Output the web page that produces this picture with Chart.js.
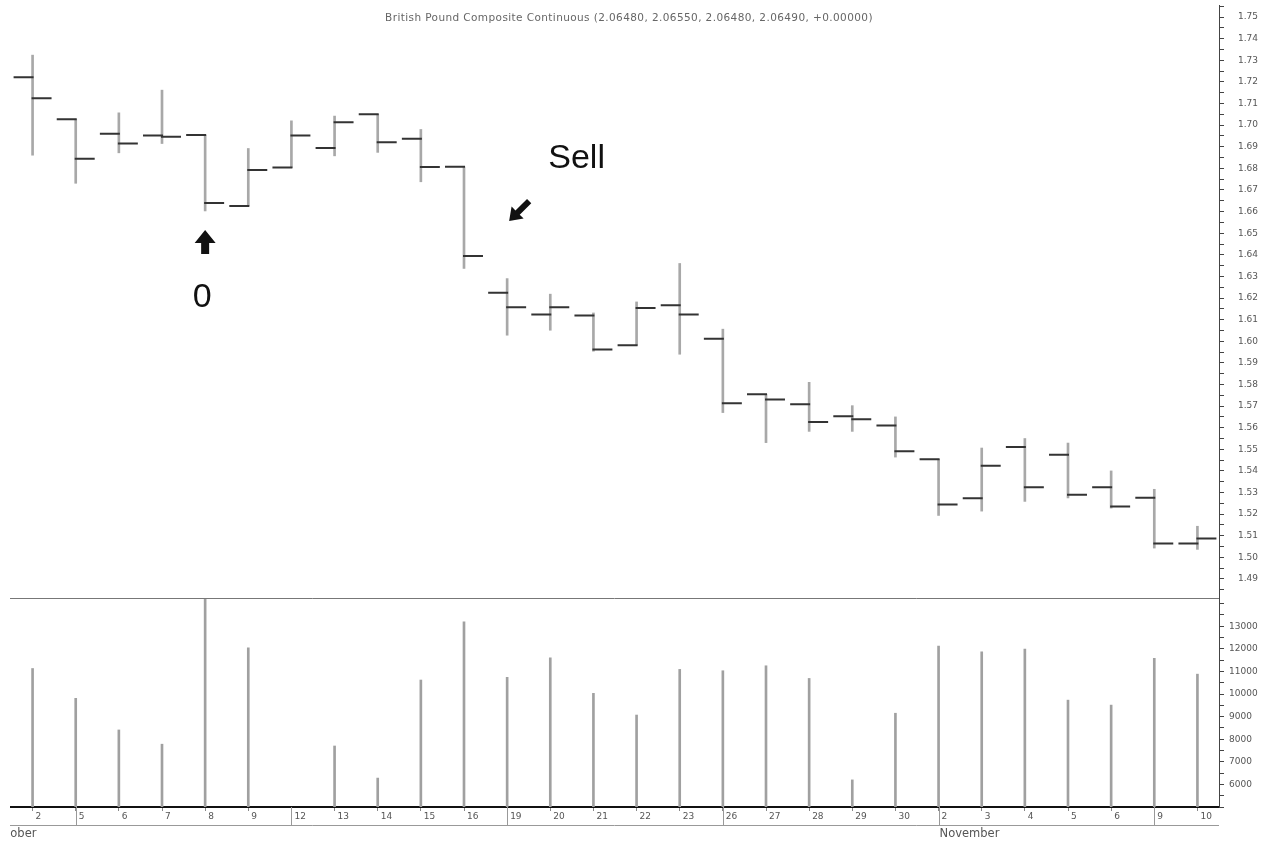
<!DOCTYPE html>
<html>
<head>
<meta charset="utf-8">
<title>British Pound Composite Continuous</title>
<script src="https://cdn.jsdelivr.net/npm/chart.js@4/dist/chart.umd.min.js"></script>
<style>
  html, body { margin: 0; padding: 0; background: #fff; }
  canvas { display: block; }
</style>
</head>
<body>
<canvas id="chart" width="1274" height="841"></canvas>
<script>
// daily bars, 2 Oct - 10 Nov
const days = ['2','5','6','7','8','9','12','13','14','15','16','19','20','21','22','23','26','27','28','29','30','2','3','4','5','6','9','10'];
const opens  = [1.7222,1.7027,1.6960,1.6952,1.6954,1.6626,1.6804,1.6894,1.7050,1.6937,1.6807,1.6225,1.6124,1.6119,1.5981,1.6167,1.6012,1.5755,1.5708,1.5653,1.5610,1.5454,1.5273,1.5511,1.5475,1.5325,1.5276,1.5064];
const highs  = [1.7324,1.7028,1.7057,1.7162,1.6954,1.6892,1.7020,1.7042,1.7050,1.6980,1.6807,1.6290,1.6218,1.6131,1.6182,1.6360,1.6056,1.5755,1.5810,1.5702,1.5650,1.5454,1.5506,1.5550,1.5529,1.5400,1.5315,1.5144];
const lows   = [1.6861,1.6731,1.6872,1.6915,1.6603,1.6626,1.6804,1.6858,1.6874,1.6738,1.6337,1.6028,1.6051,1.5954,1.5981,1.5940,1.5670,1.5531,1.5583,1.5583,1.5464,1.5194,1.5214,1.5259,1.5275,1.5228,1.5043,1.5037];
const closes = [1.7125,1.6844,1.6915,1.6946,1.6640,1.6792,1.6952,1.7014,1.6921,1.6806,1.6395,1.6157,1.6157,1.5962,1.6154,1.6124,1.5713,1.5731,1.5626,1.5639,1.5491,1.5245,1.5424,1.5324,1.5290,1.5235,1.5064,1.5087];
const volumes = [11130,9810,8410,7780,14200,12040,null,7700,6280,10620,13190,10740,11600,10030,9070,11090,11030,11250,10690,6200,9150,12120,11870,11990,9730,9510,11580,10880];

// month names under the day row (startIdx -1 = 1 Oct, before the first bar)
const months = [{ name: 'October', startIdx: -1 }, { name: 'November', startIdx: 21 }];
const titleText = 'British Pound Composite Continuous (2.06480, 2.06550, 2.06480, 2.06490, +0.00000)';

// hand-drawn marks on the chart, anchored to bar index / price
const notes = [
  { kind: 'arrow', fromIdx: 4, fromPrice: 1.6404, toIdx: 4, toPrice: 1.6515, dx: 0, dxTo: 0, head: 13, headW: 21, shaft: 8 },
  { kind: 'text', text: '0', idx: 4, price: 1.6200, dx: -3, align: 'center' },
  { kind: 'text', text: 'Sell', idx: 12, price: 1.6845, dx: -2, align: 'left' },
  { kind: 'arrow', fromIdx: 11, fromPrice: 1.6649, toIdx: 11, toPrice: 1.6556, dx: 22, dxTo: 2, head: 12, headW: 17, shaft: 6 }
];

Chart.defaults.font.family = "'DejaVu Sans', sans-serif";

function drawArrow(ctx, x1, y1, x2, y2, head, headW, shaft) {
  const len = Math.hypot(x2 - x1, y2 - y1);
  ctx.save();
  ctx.translate(x2, y2);
  ctx.rotate(Math.atan2(y2 - y1, x2 - x1));
  ctx.beginPath();
  ctx.moveTo(0, 0);
  ctx.lineTo(-head, -headW / 2);
  ctx.lineTo(-head, -shaft / 2);
  ctx.lineTo(-len, -shaft / 2);
  ctx.lineTo(-len, shaft / 2);
  ctx.lineTo(-head, shaft / 2);
  ctx.lineTo(-head, headW / 2);
  ctx.closePath();
  ctx.fill();
  ctx.restore();
}

// keep axis label overflow from pushing the plot area around
function noPad(s) {
  s.paddingTop = 0; s.paddingBottom = 0; s.paddingLeft = 0; s.paddingRight = 0;
}

// open (left) and close (right) ticks of each OHLC bar
const ohlcTicks = {
  id: 'ohlcTicks',
  afterDatasetsDraw(chart) {
    const { ctx, scales: { x, y } } = chart;
    const half = (x.getPixelForValue(1) - x.getPixelForValue(0)) * 0.44;
    ctx.save();
    ctx.strokeStyle = '#333';
    ctx.lineWidth = 2;
    ctx.beginPath();
    opens.forEach((o, i) => {
      const px = x.getPixelForValue(i);
      const yo = y.getPixelForValue(o);
      const yc = y.getPixelForValue(closes[i]);
      ctx.moveTo(px - half, yo); ctx.lineTo(px + 1, yo);
      ctx.moveTo(px - 1, yc); ctx.lineTo(px + half, yc);
    });
    ctx.stroke();
    ctx.restore();
  }
};

// panel separator, day-strip lines, month names, title and annotations
const decorations = {
  id: 'decorations',
  afterDraw(chart) {
    const { ctx, chartArea: ca, scales: { x, y, yVol } } = chart;
    ctx.save();

    ctx.strokeStyle = '#777';
    ctx.lineWidth = 1;
    ctx.beginPath();
    ctx.moveTo(ca.left - 1, Math.round(yVol.top) + 0.5);
    ctx.lineTo(ca.right, Math.round(yVol.top) + 0.5);
    ctx.stroke();

    const stripBottom = x.top + 18;
    ctx.strokeStyle = '#999';
    ctx.beginPath();
    ctx.moveTo(ca.left - 1, stripBottom + 0.5);
    ctx.lineTo(ca.right, stripBottom + 0.5);
    // week starts: where the day number jumps by more than one
    days.forEach((d, i) => {
      if (i === 0) return;
      const cur = +d, prev = +days[i - 1];
      if (cur - prev > 1 || cur < prev) {
        const px = Math.round(x.getPixelForValue(i)) + 0.5;
        ctx.moveTo(px, x.top);
        ctx.lineTo(px, stripBottom + 1);
      }
    });
    ctx.stroke();

    ctx.save();
    ctx.beginPath();
    ctx.rect(ca.left - 1, x.top, chart.width, x.height);
    ctx.clip();
    ctx.fillStyle = '#555';
    ctx.font = "11.5px 'DejaVu Sans'";
    ctx.textBaseline = 'middle';
    ctx.textAlign = 'left';
    months.forEach(m => {
      ctx.fillText(m.name, x.getPixelForValue(m.startIdx) + 1, stripBottom + 9);
    });
    ctx.restore();

    ctx.save();
    ctx.fillStyle = '#666';
    ctx.font = "10.5px 'DejaVu Sans'";
    if ('letterSpacing' in ctx) ctx.letterSpacing = '0.4px';
    ctx.textAlign = 'center';
    ctx.textBaseline = 'middle';
    ctx.fillText(titleText, (ca.left + ca.right) / 2 + 14, 18);
    ctx.restore();

    ctx.fillStyle = '#111';
    ctx.font = "34px 'Liberation Sans', Arial, sans-serif";
    ctx.textBaseline = 'middle';
    notes.forEach(n => {
      if (n.kind === 'text') {
        ctx.textAlign = n.align;
        ctx.fillText(n.text, x.getPixelForValue(n.idx) + n.dx, y.getPixelForValue(n.price));
      } else {
        drawArrow(ctx,
          x.getPixelForValue(n.fromIdx) + n.dx, y.getPixelForValue(n.fromPrice),
          x.getPixelForValue(n.toIdx) + n.dxTo, y.getPixelForValue(n.toPrice),
          n.head, n.headW, n.shaft);
      }
    });
    ctx.restore();
  }
};

new Chart(document.getElementById('chart'), {
  data: {
    labels: days,
    datasets: [
      {
        type: 'bar',
        label: 'Range',
        data: lows.map((l, i) => [l, highs[i]]),
        yAxisID: 'y',
        backgroundColor: '#a8a8a8',
        barThickness: 2,
        grouped: false
      },
      {
        type: 'bar',
        label: 'Volume',
        data: volumes,
        yAxisID: 'yVol',
        backgroundColor: '#a0a0a0',
        barThickness: 2,
        grouped: false
      }
    ]
  },
  options: {
    responsive: false,
    animation: false,
    layout: { padding: { left: 11, top: 5, right: 0, bottom: 0 } },
    plugins: { legend: { display: false }, tooltip: { enabled: false }, title: { display: false } },
    scales: {
      x: {
        type: 'category',
        offset: true,
        grid: { offset: false, drawOnChartArea: false, tickLength: 4, color: '#888' },
        border: { display: true, color: '#111', width: 2 },
        ticks: {
          autoSkip: false, maxRotation: 0, align: 'start', labelOffset: 3, padding: 0,
          color: '#555', font: { size: 9 }
        },
        afterFit(s) { s.height = 34; noPad(s); }
      },
      y: {
        type: 'linear',
        position: 'right',
        stack: 'panes',
        stackWeight: 593,
        min: 1.4812,
        max: 1.7556,
        grid: { drawOnChartArea: false, tickLength: 5, color: '#444' },
        border: { color: '#444' },
        ticks: {
          stepSize: 0.005, includeBounds: false, autoSkip: false, padding: 14,
          color: '#555', font: { size: 9 },
          callback(v) {
            const c = Math.round(v * 200);
            if (c % 2) return '';
            const p = c / 200;
            return (p < 1.4899 || p > 1.7501) ? '' : p.toFixed(2);
          }
        },
        afterFit(s) { s.width = 55; noPad(s); }
      },
      yVol: {
        type: 'linear',
        position: 'right',
        stack: 'panes',
        stackWeight: 209,
        min: 5000,
        max: 14250,
        grid: { drawOnChartArea: false, tickLength: 5, color: '#444' },
        border: { color: '#444' },
        ticks: {
          stepSize: 250, includeBounds: false, autoSkip: false, padding: 5,
          color: '#555', font: { size: 9 },
          callback(v) {
            return (v % 1000 === 0 && v >= 6000 && v <= 13000) ? String(v) : '';
          }
        },
        afterBuildTicks(s) { s.ticks = s.ticks.filter(t => t.value % 500 === 0); },
        afterFit(s) { s.width = 55; noPad(s); }
      }
    }
  },
  plugins: [ohlcTicks, decorations]
});
</script>
</body>
</html>
